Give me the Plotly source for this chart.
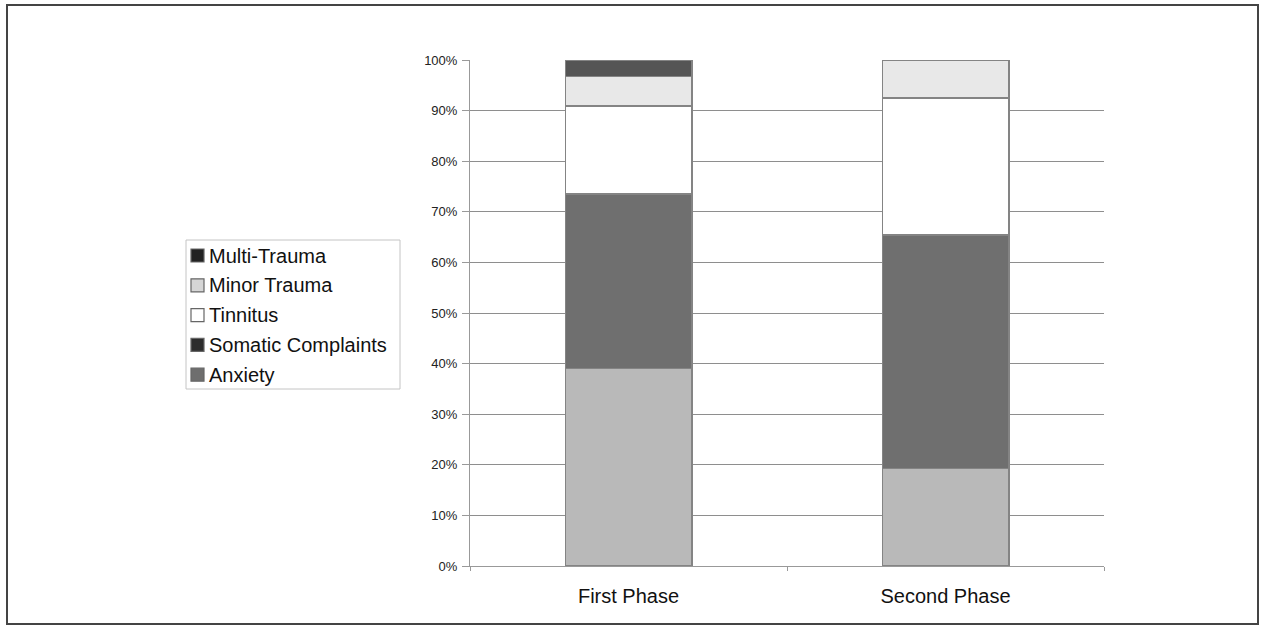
import plotly.graph_objects as go

# Share of cases per diagnosis group, in percent
phases = ["First Phase", "Second Phase"]
anxiety = [39.0, 19.2]
somatic_complaints = [34.5, 46.2]
tinnitus = [17.4, 27.1]
minor_trauma = [5.8, 7.5]
multi_trauma = [3.3, 0.0]

y_ticks = [0, 10, 20, 30, 40, 50, 60, 70, 80, 90, 100]
y_tick_labels = [f"{v}%" for v in y_ticks]

# (name, values, bar fill, legend key fill)
series = [
    ("Anxiety", anxiety, "#b9b9b9", "#6e6e6e"),
    ("Somatic Complaints", somatic_complaints, "#6f6f6f", "#2c2c2c"),
    ("Tinnitus", tinnitus, "#ffffff", "#ffffff"),
    ("Minor Trauma", minor_trauma, "#e8e8e8", "#d6d6d6"),
    ("Multi-Trauma", multi_trauma, "#555555", "#222222"),
]

# Plot-area geometry in pixels, used to place items outside the axes
L, R, T, B = 470, 1104, 60, 566
W, H = R - L, B - T


def px(x):
    return (x - L) / W


def py(y):
    return (B - y) / H


fig = go.Figure()
for name, vals, bar_color, _ in series:
    fig.add_trace(go.Bar(
        x=phases, y=vals, name=name, showlegend=False,
        marker=dict(color=bar_color, line=dict(color="#848484", width=1.2)),
        width=0.4,
    ))

# Outer frame around the whole figure
fig.add_shape(type="rect", xref="paper", yref="paper",
              x0=px(7), x1=px(1258), y0=py(624), y1=py(5),
              line=dict(color="#444444", width=2), layer="below")

# Legend box with keys, top entry = top of the stack
fig.add_shape(type="rect", xref="paper", yref="paper",
              x0=px(186), x1=px(400), y0=py(389), y1=py(240),
              line=dict(color="#c4c4c4", width=1), fillcolor="white")
for i, (name, _, _, key_color) in enumerate(reversed(series)):
    yc = 255.5 + i * 29.8
    fig.add_shape(type="rect", xref="paper", yref="paper",
                  x0=px(191), x1=px(204), y0=py(yc + 6.5), y1=py(yc - 6.5),
                  line=dict(color="#666666", width=1.2), fillcolor=key_color)
    fig.add_annotation(xref="paper", yref="paper", x=px(207), y=py(yc),
                       xanchor="left", yanchor="middle", showarrow=False,
                       text=name, font=dict(size=20, color="#111111"))

fig.update_layout(
    barmode="stack",
    width=1263, height=626,
    margin=dict(l=L, r=1263 - R, t=T, b=626 - B),
    paper_bgcolor="white", plot_bgcolor="white",
    font=dict(family="Liberation Sans, Arial, sans-serif", color="#111111"),
    showlegend=False,
    xaxis=dict(
        showgrid=False, showline=True, linecolor="#999999", linewidth=1,
        ticks="outside", tickson="boundaries", ticklen=4, tickcolor="#999999",
        ticklabelstandoff=12,
        tickfont=dict(size=20, color="#111111"),
        fixedrange=True,
    ),
    yaxis=dict(
        range=[0, 100], tickvals=y_ticks, ticktext=y_tick_labels,
        showgrid=True, gridcolor="#8e8e8e", gridwidth=1,
        showline=True, linecolor="#999999", linewidth=1,
        ticks="outside", ticklen=7, tickcolor="#999999",
        ticklabelstandoff=2,
        tickfont=dict(size=13, color="#222222"),
        zeroline=False,
    ),
)

fig.write_html("out.html")
